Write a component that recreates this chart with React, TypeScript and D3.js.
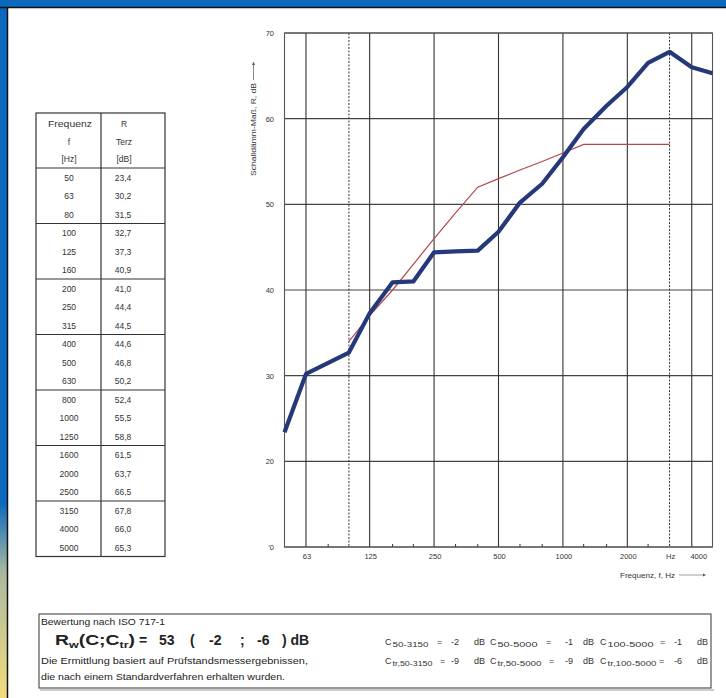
import React from "react";
import * as d3 from "d3";

const freqs = [50, 63, 80, 100, 125, 160, 200, 250, 315, 400, 500, 630, 800, 1000, 1250, 1600, 2000, 2500, 3150, 4000, 5000];
const rValues = [23.4, 30.2, 31.5, 32.7, 37.3, 40.9, 41.0, 44.4, 44.5, 44.6, 46.8, 50.2, 52.4, 55.5, 58.8, 61.5, 63.7, 66.5, 67.8, 66.0, 65.3];
const refFreqs = [100, 125, 160, 200, 250, 315, 400, 500, 630, 800, 1000, 1250, 1600, 2000, 2500, 3150];
const refValues = [34, 37, 40, 43, 46, 49, 52, 53, 54, 55, 56, 57, 57, 57, 57, 57];
const solidGridFreqs = [63, 125, 250, 500, 1000, 2000, 4000];
const dashedGridFreqs = [100, 3150];
const minorTickFreqs = [80, 160, 200, 315, 400, 630, 800, 1250, 1600, 2500];
const xTickFreqs = [63, 125, 250, 500, 1000, 2000, 3150, 4000];
const xTickLabels = ["63", "125", "250", "500", "1000", "2000", "Hz", "4000"];
const yTicks = [10, 20, 30, 40, 50, 60, 70];
const yTickLabels = ["'0", "20", "30", "40", "50", "60", "70"];

const FONT = "Liberation Sans, Arial, sans-serif";

type CItem = { x: number; sub: string; subLen: number; eq: number; val: string; valX: number; dbX: number };
const cRow1: CItem[] = [
  { x: 385, sub: "50-3150", subLen: 36, eq: 437, val: "-2", valX: 451, dbX: 474 },
  { x: 490, sub: "50-5000", subLen: 40, eq: 546, val: "-1", valX: 565, dbX: 583 },
  { x: 600, sub: "100-5000", subLen: 46, eq: 660, val: "-1", valX: 674, dbX: 697 },
];
const cRow2: CItem[] = [
  { x: 385, sub: "tr,50-3150", subLen: 40, eq: 440, val: "-9", valX: 451, dbX: 474 },
  { x: 490, sub: "tr,50-5000", subLen: 44, eq: 549, val: "-9", valX: 565, dbX: 583 },
  { x: 600, sub: "tr,100-5000", subLen: 49, eq: 659, val: "-6", valX: 674, dbX: 697 },
];

function CLine({ items, yy }: { items: CItem[]; yy: number }) {
  return (
    <g>
      {items.map((it, i) => (
        <g key={i}>
          <text x={it.x} y={yy} fontSize={9}>C</text>
          <text x={it.x + 7.5} y={yy + 2} fontSize={6.5} textLength={it.subLen} lengthAdjust="spacingAndGlyphs">{it.sub}</text>
          <text x={it.eq} y={yy} fontSize={9}>=</text>
          <text x={it.valX} y={yy} fontSize={9}>{it.val}</text>
          <text x={it.dbX} y={yy} fontSize={9}>dB</text>
        </g>
      ))}
    </g>
  );
}

export default function App() {
  const x = d3.scaleLog().domain([50, 5000]).range([284.5, 712.5]);
  const y = d3.scaleLinear().domain([10, 70]).range([547, 33]);
  const line = d3
    .line<[number, number]>()
    .x((d) => x(d[0]))
    .y((d) => y(d[1]));
  const measured = line(freqs.map((f, i) => [f, rValues[i]] as [number, number])) || "";
  const reference = line(refFreqs.map((f, i) => [f, refValues[i]] as [number, number])) || "";

  const fmt = (v: number) => d3.format(".1f")(v).replace(".", ",");
  const rowH = 18.5;
  const tableTop = 113;
  const headerBottom = 168;
  const tableBottom = headerBottom + rowH * freqs.length;

  return (
    <svg
      width={726}
      height={698}
      style={{ position: "absolute", left: 0, top: 0, background: "#fff" }}
      fontFamily={FONT}
    >
      <defs>
        <linearGradient id="strip" x1="0" y1="0" x2="0" y2="698" gradientUnits="userSpaceOnUse">
          <stop offset="0" stopColor="#0a69bd" />
          <stop offset="0.72" stopColor="#0a69bd" />
          <stop offset="0.82" stopColor="#a8b9a0" />
          <stop offset="1" stopColor="#f4dc7c" />
        </linearGradient>
      </defs>
      {/* frame */}
      <rect x={0} y={0} width={726} height={698} fill="#fff" />
      <rect x={0} y={0} width={7} height={698} fill="url(#strip)" />
      <rect x={0} y={0} width={726} height={7} fill="#0a69bd" />
      <line x1={0} y1={7.5} x2={726} y2={7.5} stroke="#111" strokeWidth={1.5} />
      <line x1={7.5} y1={7} x2={7.5} y2={698} stroke="#111" strokeWidth={1.5} />

      {/* table */}
      <g fontSize={8.5} fill="#333" textAnchor="middle">
        <rect x={36} y={tableTop} width={129} height={tableBottom - tableTop} fill="none" stroke="#333" strokeWidth={1.2} />
        <line x1={101} y1={tableTop} x2={101} y2={tableBottom} stroke="#333" strokeWidth={1.2} />
        <line x1={36} y1={headerBottom} x2={165} y2={headerBottom} stroke="#333" strokeWidth={1.2} />
        {[3, 6, 9, 12, 15, 18].map((k) => (
          <line key={k} x1={36} y1={headerBottom + rowH * k} x2={165} y2={headerBottom + rowH * k} stroke="#333" strokeWidth={1.2} />
        ))}
        <text x={70} y={127} textLength={44} lengthAdjust="spacingAndGlyphs">Frequenz</text>
        <text x={69} y={145}>f</text>
        <text x={69} y={162}>[Hz]</text>
        <text x={124} y={127}>R</text>
        <text x={124} y={145}>Terz</text>
        <text x={124} y={162}>[dB]</text>
        {freqs.map((f, i) => (
          <g key={f}>
            <text x={69} y={headerBottom + rowH * i + 12.5}>{f}</text>
            <text x={123} y={headerBottom + rowH * i + 12.5}>{fmt(rValues[i])}</text>
          </g>
        ))}
      </g>

      {/* chart grid */}
      <g>
        {yTicks.map((v) => (
          <line key={v} x1={x(50)} x2={x(5000)} y1={y(v)} y2={y(v)} stroke="#444" strokeWidth={1.1} />
        ))}
        {solidGridFreqs.map((f) => (
          <line key={f} x1={x(f)} x2={x(f)} y1={y(70)} y2={y(10)} stroke="#333" strokeWidth={1.1} />
        ))}
        {dashedGridFreqs.map((f) => (
          <line key={f} x1={x(f)} x2={x(f)} y1={y(70)} y2={y(10)} stroke="#333" strokeWidth={1} strokeDasharray="2,1.5" />
        ))}
        {minorTickFreqs.map((f) => (
          <line key={f} x1={x(f)} x2={x(f)} y1={y(10)} y2={y(10) - 3} stroke="#333" strokeWidth={1} />
        ))}
        <rect x={x(50)} y={y(70)} width={x(5000) - x(50)} height={y(10) - y(70)} fill="none" stroke="#555" strokeWidth={1.1} />
      </g>

      {/* axis labels */}
      <g fontSize={7.5} fill="#333">
        {yTicks.map((v, i) => (
          <text key={v} x={274} y={y(v) + 3} textAnchor="end">{yTickLabels[i]}</text>
        ))}
        {xTickFreqs.map((f, i) => (
          <text key={f} x={x(f) + (i === xTickFreqs.length - 1 ? 7 : 1)} y={559} textAnchor="middle">{xTickLabels[i]}</text>
        ))}
        <text x={620} y={578} fontSize={8} textLength={55} lengthAdjust="spacingAndGlyphs">Frequenz, f, Hz</text>
        <line x1={679} y1={575} x2={703} y2={575} stroke="#777" strokeWidth={0.7} />
        <path d="M703,573.5 L706,575 L703,576.5 Z" fill="#555" />
        <text transform="translate(256,176) rotate(-90)" fontSize={8} textLength={93} lengthAdjust="spacingAndGlyphs">Schalldämm-Maß,  R, dB</text>
        <line x1={253.5} y1={80} x2={253.5} y2={64} stroke="#555" strokeWidth={0.7} />
        <path d="M252,65 L253.5,61.5 L255,65 Z" fill="#555" />
      </g>

      {/* curves */}
      <path d={reference} fill="none" stroke="#b5474a" strokeWidth={1.2} />
      <path d={measured} fill="none" stroke="#25397a" strokeWidth={4.2} strokeLinejoin="round" />

      {/* bottom box */}
      <rect x={39} y={614} width={672} height={74} fill="none" stroke="#333" strokeWidth={1} />
      <line x1={40} y1={690} x2={714} y2={690} stroke="#999" strokeWidth={1} />
      <g fill="#222">
        <text x={41} y={625} fontSize={9} textLength={124} lengthAdjust="spacingAndGlyphs">Bewertung nach ISO 717-1</text>
        <text y={645} fontSize={14} fontWeight="bold" textLength={80} lengthAdjust="spacingAndGlyphs">
          <tspan x={55}>R</tspan>
          <tspan fontSize={9} dy={3}>w</tspan>
          <tspan dy={-3}>(C;C</tspan>
          <tspan fontSize={9} dy={3}>tr</tspan>
          <tspan dy={-3}>)</tspan>
        </text>
        <text x={139} y={645} fontSize={14} fontWeight="bold">=</text>
        <text x={159} y={645} fontSize={14} fontWeight="bold">53</text>
        <text x={190} y={645} fontSize={14} fontWeight="bold">(</text>
        <text x={209} y={645} fontSize={14} fontWeight="bold">-2</text>
        <text x={240} y={645} fontSize={14} fontWeight="bold">;</text>
        <text x={257} y={645} fontSize={14} fontWeight="bold">-6</text>
        <text x={282} y={645} fontSize={14} fontWeight="bold">) dB</text>
        <text x={41} y={664} fontSize={9} textLength={267} lengthAdjust="spacingAndGlyphs">Die Ermittlung basiert auf Prüfstandsmessergebnissen,</text>
        <text x={41} y={680} fontSize={9} textLength={244} lengthAdjust="spacingAndGlyphs">die nach einem Standardverfahren erhalten wurden.</text>
      </g>
      <g fill="#333">
        <CLine items={cRow1} yy={645} />
        <CLine items={cRow2} yy={664} />
      </g>
    </svg>
  );
}
